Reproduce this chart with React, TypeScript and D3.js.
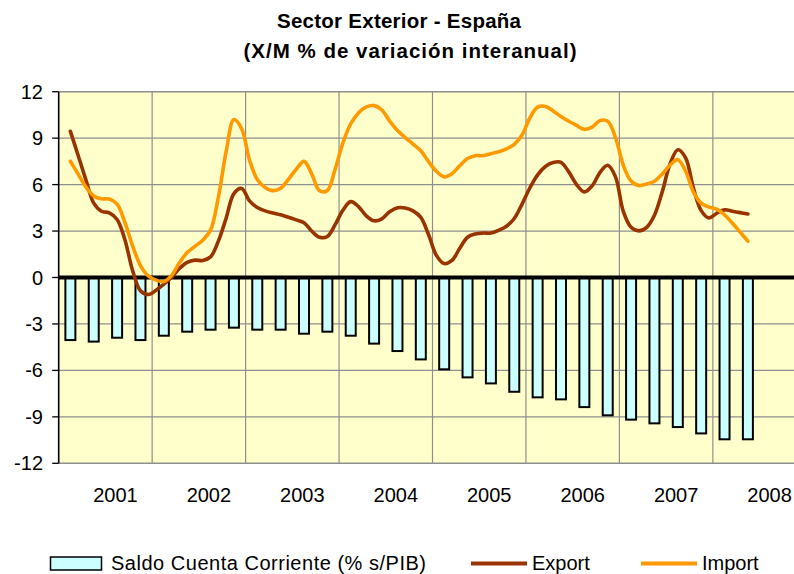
import React from 'react';
import * as d3 from 'd3';

// ---- data ----
const years = ['2001', '2002', '2003', '2004', '2005', '2006', '2007', '2008'];
const yTicks = [12, 9, 6, 3, 0, -3, -6, -9, -12];

// Saldo Cuenta Corriente (% s/PIB), quarterly 2001Q1 .. 2008Q2
const saldo = [
  -4.04, -4.14, -3.89, -4.04, -3.76, -3.5, -3.37, -3.24, -3.37, -3.37,
  -3.63, -3.5, -3.76, -4.27, -4.75, -5.29, -5.93, -6.45, -6.84, -7.38,
  -7.74, -7.87, -8.37, -8.9, -9.18, -9.42, -9.66, -10.07, -10.45, -10.45,
];

// Monthly series starting Feb 2001 (month index 1 from Jan 2001)
const firstMonth = 1;
const exportVals = [
  9.44, 7.88, 6.29, 4.8, 4.28, 4.17, 3.75, 2.44, 0.43, -0.85,
  -1.1, -0.83, -0.43, 0.02, 0.58, 0.98, 1.12, 1.1, 1.33, 2.35,
  3.83, 5.42, 5.75, 4.95, 4.52, 4.3, 4.17, 4.05, 3.89, 3.72,
  3.54, 2.99, 2.6, 2.65, 3.41, 4.35, 4.9, 4.58, 3.98, 3.66,
  3.79, 4.24, 4.5, 4.49, 4.3, 3.88, 2.76, 1.43, 0.9, 1.1,
  1.89, 2.6, 2.81, 2.87, 2.87, 3.05, 3.31, 3.81, 4.74, 5.78,
  6.63, 7.17, 7.42, 7.44, 6.82, 6.0, 5.53, 5.92, 6.78, 7.25,
  6.5, 4.27, 3.24, 3.01, 3.24, 4.02, 5.53, 7.33, 8.25, 7.73,
  5.78, 4.32, 3.85, 4.15, 4.37, 4.28, 4.19, 4.1,
];
const importVals = [
  7.51, 6.68, 5.84, 5.27, 5.08, 5.07, 4.74, 3.56, 2.03, 0.77,
  0.1, -0.17, -0.26, 0.14, 0.95, 1.61, 2.01, 2.41, 3.06, 5.17,
  8.13, 10.2, 9.6, 7.59, 6.33, 5.82, 5.61, 5.76, 6.34, 6.99,
  7.5, 6.68, 5.6, 5.62, 7.0, 8.7, 9.93, 10.63, 11.02, 11.1,
  10.82, 10.1, 9.5, 9.04, 8.62, 8.19, 7.48, 6.86, 6.5, 6.7,
  7.22, 7.68, 7.87, 7.87, 8.0, 8.12, 8.31, 8.6, 9.2, 10.3,
  11.0, 11.05, 10.76, 10.4, 10.09, 9.82, 9.57, 9.71, 10.13, 10.09,
  9.04, 7.25, 6.23, 5.94, 6.04, 6.22, 6.69, 7.26, 7.61, 6.88,
  5.53, 4.8, 4.55, 4.41, 4.05, 3.52, 2.93, 2.35,
];

const legendItems = ['Saldo Cuenta Corriente (% s/PIB)', 'Export', 'Import'];

const FONT = '"Liberation Sans", Arial, Helvetica, sans-serif';
const C_BG = '#FFFFCC';
const C_BAR = '#CCFFFF';
const C_EXP = '#993300';
const C_IMP = '#FF9900';
const C_GRID = '#8f8f8f';

export default function App() {
  const W = 794;
  const H = 574;
  const x0 = 58.7;
  const yearW = 93.45;
  const x = d3.scaleLinear().domain([0, 96]).range([x0, x0 + 8 * yearW]);
  const y = d3.scaleLinear().domain([-12, 12]).range([463.3, 91.7]);
  const plotRight = x(96);

  const line = d3
    .line<number>()
    .x((_, i) => x(firstMonth + i + 0.5))
    .y((d) => y(d))
    .curve(d3.curveCatmullRom.alpha(0.5));

  const barW = 10;

  return (
    <svg
      width={W}
      height={H}
      style={{ position: 'fixed', left: 0, top: 0, background: '#fff' }}
      fontFamily={FONT}
    >
      <defs>
        <clipPath id="plotclip">
          <rect x={x0} y={y(12)} width={plotRight - x0} height={y(-12) - y(12)} />
        </clipPath>
      </defs>
      {/* Title */}
      <text x={399} y={28} textAnchor="middle" fontSize={20.5} fontWeight="bold" fill="#000"
        textLength={244} lengthAdjust="spacing">
        Sector Exterior - España
      </text>
      <text x={410} y={58} textAnchor="middle" fontSize={20.5} fontWeight="bold" fill="#000"
        textLength={333} lengthAdjust="spacing">
        (X/M % de variación interanual)
      </text>

      {/* Plot background */}
      <rect x={x0} y={y(12)} width={plotRight - x0} height={y(-12) - y(12)} fill={C_BG} />

      {/* Horizontal gridlines */}
      {yTicks.map((t) => (
        <line
          key={'h' + t}
          x1={x0}
          x2={plotRight}
          y1={y(t)}
          y2={y(t)}
          stroke={C_GRID}
          strokeWidth={t === 12 || t === -12 ? 1.6 : 1.2}
        />
      ))}
      {/* Vertical gridlines at year boundaries */}
      {years.slice(1).map((_, i) => (
        <line
          key={'v' + i}
          x1={x(12 * (i + 1))}
          x2={x(12 * (i + 1))}
          y1={y(12)}
          y2={y(-12)}
          stroke={C_GRID}
          strokeWidth={1.2}
        />
      ))}

      {/* Bars */}
      {saldo.map((v, i) => {
        const cx = x(3 * i + 1.5);
        return (
          <rect
            key={'b' + i}
            x={cx - barW / 2}
            y={y(0)}
            width={barW}
            height={y(v) - y(0)}
            fill={C_BAR}
            stroke="#000"
            strokeWidth={2}
          />
        );
      })}

      {/* Zero line */}
      <line x1={x0} x2={plotRight} y1={y(0)} y2={y(0)} stroke="#000" strokeWidth={4} />

      {/* Lines */}
      <g clipPath="url(#plotclip)">
        <path d={line(exportVals) || ''} fill="none" stroke={C_EXP} strokeWidth={3.6} strokeLinejoin="round" strokeLinecap="round" />
        <path d={line(importVals) || ''} fill="none" stroke={C_IMP} strokeWidth={3.6} strokeLinejoin="round" strokeLinecap="round" />
      </g>

      {/* Left axis */}
      <line x1={x0} x2={x0} y1={y(12)} y2={y(-12)} stroke="#000" strokeWidth={1.6} />
      {yTicks.map((t) => (
        <g key={'t' + t}>
          <line x1={x0 - 6.5} x2={x0} y1={y(t)} y2={y(t)} stroke="#000" strokeWidth={1.3} />
          <text x={43} y={y(t) + 7} textAnchor="end" fontSize={20} fill="#000">
            {t}
          </text>
        </g>
      ))}

      {/* Year labels */}
      {years.map((yr, i) => (
        <text key={yr} x={x(12 * i + 6) + 10} y={502} textAnchor="middle" fontSize={20} fill="#000">
          {yr}
        </text>
      ))}

      {/* Legend */}
      <rect x={50.5} y={557} width={51} height={13} fill={C_BAR} stroke="#000" strokeWidth={1.5} />
      <text x={111} y={570} fontSize={20} fill="#000" textLength={315} lengthAdjust="spacing">
        {legendItems[0]}
      </text>
      <line x1={471} x2={527} y1={563.5} y2={563.5} stroke={C_EXP} strokeWidth={4} />
      <text x={532} y={570} fontSize={20} fill="#000">
        {legendItems[1]}
      </text>
      <line x1={641} x2={697} y1={563.5} y2={563.5} stroke={C_IMP} strokeWidth={4} />
      <text x={702} y={570} fontSize={20} fill="#000">
        {legendItems[2]}
      </text>
    </svg>
  );
}
